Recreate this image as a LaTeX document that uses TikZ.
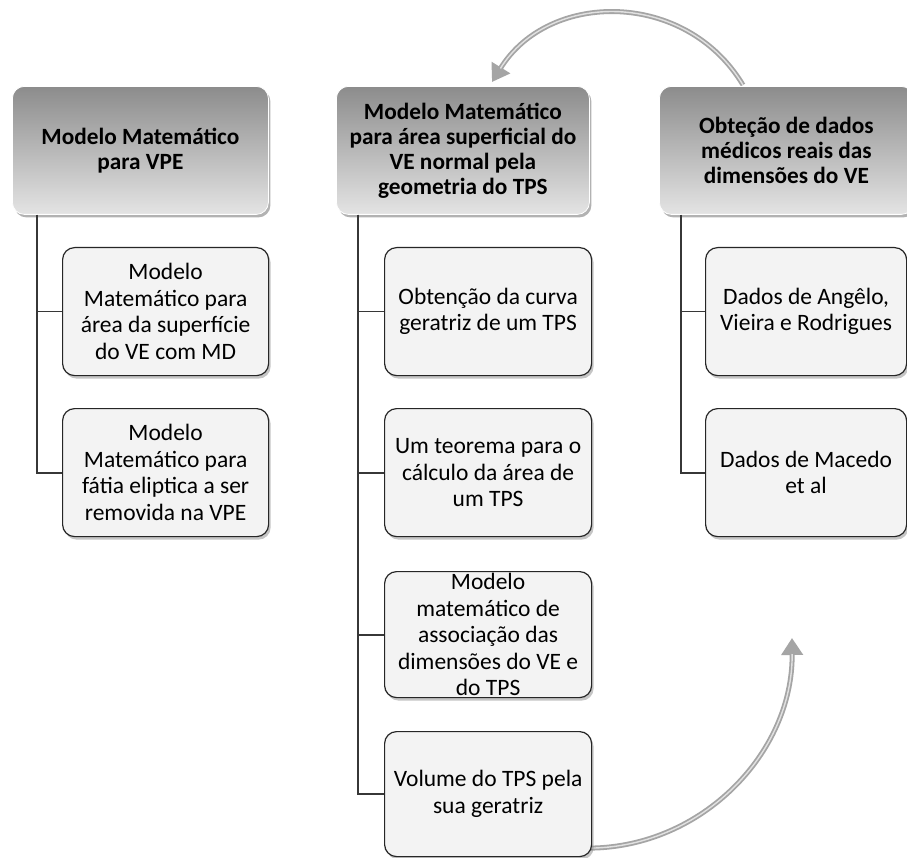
\documentclass[tikz,border=0pt]{standalone}
\usepackage{fontspec}
\setmainfont{Carlito}
\usetikzlibrary{shadows,arrows.meta,calc,backgrounds}
\definecolor{hdrtop}{RGB}{140,140,140}
\definecolor{hdrbot}{RGB}{228,228,228}
\definecolor{childfill}{RGB}{243,243,243}
\definecolor{connc}{RGB}{55,55,55}
\definecolor{arrowc}{RGB}{165,165,165}
\definecolor{arrowin}{RGB}{225,225,225}
\begin{document}
\begin{tikzpicture}[x=1pt,y=-1pt,
  hdr/.style={rounded corners=12pt, minimum height=128pt, inner sep=0pt,
    top color=hdrtop, bottom color=hdrbot, draw=white, line width=0.8pt,
    drop shadow={shadow xshift=2pt, shadow yshift=-3pt, opacity=0.55, fill=black!55},
    font=\bfseries\fontsize{23.3}{25}\selectfont, align=center, anchor=north west},
  childbox/.style={rounded corners=12pt, inner sep=0pt,
    draw=black!85, line width=1.2pt, fill=childfill,
    drop shadow={shadow xshift=2pt, shadow yshift=-3pt, opacity=0.45, fill=black!50},
    font=\fontsize{23.5}{26.5}\selectfont, align=center, anchor=north west},
  conn/.style={draw=connc, line width=1.8pt},
  bigarrow/.style={draw=arrowc, line width=5pt, -{Triangle[length=17pt,width=21pt]}},
  arrowhl/.style={draw=arrowin, line width=1.4pt}
]
\useasboundingbox (0,0) rectangle (907,858);
% headers
\node[hdr, minimum width=256pt] (hL) at (12,86) {Modelo Matemático\\para VPE};
\node[hdr, minimum width=253pt] (hM) at (336,86) {Modelo Matemático\\para área superficial do\\VE normal pela\\geometria do TPS};
\node[hdr, minimum width=254pt] (hR) at (659,86) {Obteção de dados\\médicos reais das\\dimensões do VE};

% left column
\node[childbox, minimum width=206pt, minimum height=128pt] (L1) at (62,247) {Modelo\\Matemático para\\área da superfície\\do VE com MD};
\node[childbox, minimum width=206pt, minimum height=128pt] (L2) at (62,408) {Modelo\\Matemático para\\fátia eliptica a ser\\removida na VPE};

% middle column
\node[childbox, minimum width=207pt, minimum height=128pt] (M1) at (384,247) {Obtenção da curva\\geratriz de um TPS};
\node[childbox, minimum width=207pt, minimum height=128pt] (M2) at (384,408) {Um teorema para o\\cálculo da área de\\um TPS};
\node[childbox, minimum width=207pt, minimum height=126pt] (M3) at (384,571) {Modelo\\matemático de\\associação das\\dimensões do VE e\\do TPS};
\node[childbox, minimum width=207pt, minimum height=125pt] (M4) at (384,731) {Volume do TPS pela\\sua geratriz};

% right column
\node[childbox, minimum width=201pt, minimum height=128pt] (R1) at (705,247) {Dados de Angêlo,\\Vieira e Rodrigues};
\node[childbox, minimum width=201pt, minimum height=128pt] (R2) at (705,408) {Dados de Macedo\\et al};

% connectors
\draw[conn] ([xshift=25pt]hL.south west) |- (L1.west);
\draw[conn] ([xshift=25pt]hL.south west) |- (L2.west);
\draw[conn] ([xshift=22pt]hM.south west) |- (M1.west);
\draw[conn] ([xshift=22pt]hM.south west) |- (M2.west);
\draw[conn] ([xshift=22pt]hM.south west) |- (M3.west);
\draw[conn] ([xshift=22pt]hM.south west) |- (M4.west);
\draw[conn] ([xshift=22pt]hR.south west) |- (R1.west);
\draw[conn] ([xshift=22pt]hR.south west) |- (R2.west);

% arrow end points
\coordinate (tA) at ($(hR.north west)+(84,-1)$);
\coordinate (tB) at ($(hM.north west)+(156,-4)$);
\coordinate (bA) at ($(M4.east)+(-2,54)$);
\coordinate (bB) at (792,638);

\begin{scope}[on background layer]
  \fill[white] (0,0) rectangle (907,858);
  \draw[bigarrow] (tA) .. controls (686,-10) and (549,-10) .. (tB);
  \draw[arrowhl, shorten >=16pt] (tA) .. controls (686,-10) and (549,-10) .. (tB);
  \draw[bigarrow] (bA) .. controls (702,847) and (793,753) .. (bB);
  \draw[arrowhl, shorten >=16pt] (bA) .. controls (702,847) and (793,753) .. (bB);
\end{scope}
\end{tikzpicture}
\end{document}
